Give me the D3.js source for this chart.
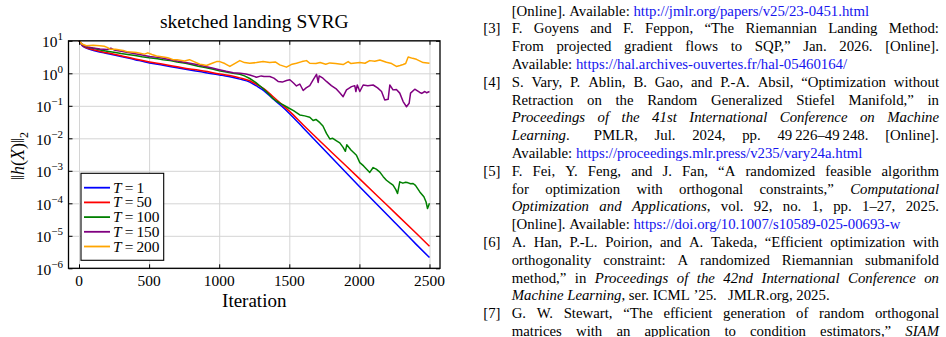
<!DOCTYPE html>
<html><head><meta charset="utf-8">
<script src="https://cdn.jsdelivr.net/npm/d3@7"></script>
<style>
html,body{margin:0;padding:0;background:#fff;}
svg{display:block;}
</style></head><body>
<svg id="c" width="946" height="337"></svg>
<script>
// ---------- chart data (iteration, log10 of ||h(X)||_2) ----------
const chartTitle = "sketched landing SVRG";
const xLabel = "Iteration";
const xTicks = [0, 500, 1000, 1500, 2000, 2500];
const yTickExps = [1, 0, -1, -2, -3, -4, -5, -6];
const seriesNames = ["T = 1", "T = 50", "T = 100", "T = 150", "T = 200"];
const seriesColors = ["#0000ff", "#ff0000", "#008000", "#800080", "#ffa500"];

const iterT1 = [0, 10, 27, 60, 125, 200, 300, 400, 503, 600, 700, 791, 847, 1004, 1100, 1147, 1218, 1266, 1320, 1385, 1440, 1504, 1600, 1800, 2000, 2200, 2400, 2500];
const logT1 = [1.0, 0.93, 0.83, 0.76, 0.68, 0.61, 0.52, 0.42, 0.32, 0.25, 0.17, 0.10, 0.06, -0.05, -0.13, -0.18, -0.27, -0.39, -0.54, -0.79, -0.99, -1.25, -1.68, -2.58, -3.48, -4.36, -5.24, -5.67];

const iterT50 = [0, 10, 27, 60, 125, 200, 300, 400, 503, 600, 700, 791, 847, 1004, 1100, 1147, 1218, 1266, 1320, 1385, 1440, 1504, 1600, 1800, 2000, 2200, 2400, 2500];
const logT50 = [1.0, 0.94, 0.85, 0.78, 0.70, 0.63, 0.54, 0.44, 0.35, 0.28, 0.20, 0.13, 0.10, -0.02, -0.09, -0.14, -0.23, -0.34, -0.48, -0.72, -0.93, -1.18, -1.59, -2.42, -3.24, -4.07, -4.90, -5.32];

const iterT100 = [0, 10, 30, 60, 110, 160, 200, 260, 300, 348, 400, 450, 500, 560, 600, 650, 700, 760, 800, 850, 900, 950, 1000, 1050, 1100, 1147, 1180, 1218, 1260, 1311, 1350, 1385, 1410, 1432, 1460, 1492, 1530, 1575, 1610, 1646, 1670, 1690, 1718, 1740, 1765, 1789, 1810, 1837, 1860, 1884, 1900, 1910, 1940, 1979, 2003, 2030, 2074, 2098, 2120, 2146, 2170, 2193, 2220, 2240, 2260, 2272, 2288, 2310, 2330, 2348, 2365, 2383, 2400, 2431, 2460, 2475, 2486, 2500];
const logT100 = [1.0, 0.94, 0.86, 0.80, 0.76, 0.71, 0.68, 0.64, 0.61, 0.58, 0.55, 0.51, 0.48, 0.45, 0.42, 0.39, 0.35, 0.31, 0.27, 0.22, 0.18, 0.13, 0.08, 0.04, 0.0, -0.03, -0.08, -0.16, -0.28, -0.46, -0.62, -0.78, -0.86, -0.92, -0.98, -1.06, -1.15, -1.28, -1.31, -1.35, -1.45, -1.42, -1.52, -1.62, -1.85, -2.02, -2.0, -2.08, -2.14, -2.28, -2.4, -2.2, -2.36, -2.52, -2.75, -2.85, -3.05, -2.9, -2.95, -3.04, -3.18, -3.29, -3.38, -3.44, -3.58, -3.70, -3.34, -3.38, -3.35, -3.37, -3.4, -3.39, -3.45, -3.65, -3.8, -3.95, -4.16, -4.0];

const iterT150 = [0, 10, 30, 60, 100, 150, 200, 227, 250, 300, 350, 400, 450, 503, 560, 600, 650, 700, 750, 800, 850, 900, 950, 1000, 1050, 1100, 1150, 1190, 1218, 1266, 1300, 1320, 1361, 1390, 1420, 1450, 1480, 1504, 1530, 1551, 1575, 1599, 1620, 1646, 1670, 1694, 1706, 1713, 1740, 1765, 1800, 1837, 1860, 1884, 1908, 1944, 1967, 1975, 1985, 2003, 2027, 2060, 2098, 2130, 2158, 2181, 2205, 2217, 2240, 2264, 2288, 2312, 2336, 2355, 2365, 2395, 2431, 2445, 2467, 2480, 2500];
const logT150 = [1.0, 0.94, 0.86, 0.81, 0.78, 0.75, 0.73, 0.77, 0.72, 0.68, 0.64, 0.6, 0.56, 0.52, 0.49, 0.46, 0.42, 0.38, 0.34, 0.3, 0.26, 0.21, 0.16, 0.11, 0.06, 0.02, 0.0, -0.02, -0.05, -0.12, -0.08, -0.1, -0.1, -0.15, -0.25, -0.27, -0.22, -0.2, -0.3, -0.39, -0.33, -0.53, -0.45, -0.38, -0.2, -0.03, -0.28, -0.08, -0.15, -0.25, -0.38, -0.49, -0.6, -0.72, -0.51, -0.41, -0.38, -0.56, -0.36, -0.56, -0.36, -0.38, -0.36, -0.45, -0.56, -0.82, -0.8, -0.36, -0.51, -0.5, -0.61, -0.87, -1.03, -0.92, -0.61, -0.49, -0.59, -0.62, -0.56, -0.6, -0.56];

const iterT200 = [0, 20, 53, 100, 148, 180, 205, 220, 260, 315, 348, 410, 467, 491, 520, 553, 600, 633, 671, 700, 752, 788, 820, 862, 885, 909, 950, 981, 1004, 1040, 1076, 1110, 1147, 1180, 1218, 1266, 1313, 1360, 1400, 1432, 1480, 1520, 1551, 1590, 1623, 1646, 1690, 1720, 1760, 1789, 1830, 1884, 1920, 1940, 2003, 2040, 2074, 2110, 2146, 2193, 2230, 2264, 2290, 2312, 2330, 2348, 2380, 2407, 2455, 2500];
const logT200 = [1.0, 0.9, 0.85, 0.86, 0.85, 0.83, 0.79, 0.74, 0.74, 0.70, 0.66, 0.64, 0.59, 0.63, 0.58, 0.53, 0.5, 0.48, 0.42, 0.42, 0.38, 0.42, 0.36, 0.28, 0.26, 0.24, 0.31, 0.36, 0.36, 0.3, 0.21, 0.3, 0.39, 0.33, 0.31, 0.33, 0.36, 0.33, 0.35, 0.26, 0.19, 0.28, 0.31, 0.36, 0.39, 0.31, 0.3, 0.33, 0.28, 0.32, 0.3, 0.27, 0.36, 0.3, 0.33, 0.31, 0.39, 0.37, 0.41, 0.34, 0.3, 0.21, 0.24, 0.27, 0.3, 0.5, 0.46, 0.43, 0.33, 0.31];

// ---------- reference list text (right column) ----------
const refLines = [
  {lab: "", j: false, segs: [["[Online]. Available: ", "n"], ["http://jmlr.org/papers/v25/23-0451.html", "u"]]},
  {lab: "[3]", j: true, segs: [["F. Goyens and F. Feppon, “The Riemannian Landing Method:", "n"]]},
  {lab: "", j: true, segs: [["From projected gradient flows to SQP,” Jan. 2026. [Online].", "n"]]},
  {lab: "", j: false, segs: [["Available: ", "n"], ["https://hal.archives-ouvertes.fr/hal-05460164/", "u"]]},
  {lab: "[4]", j: true, segs: [["S. Vary, P. Ablin, B. Gao, and P.-A. Absil, “Optimization without", "n"]]},
  {lab: "", j: true, segs: [["Retraction on the Random Generalized Stiefel Manifold,” in", "n"]]},
  {lab: "", j: true, segs: [["Proceedings of the 41st International Conference on Machine", "i"]]},
  {lab: "", j: true, segs: [["Learning", "i"], [".\u2002 PMLR, Jul. 2024, pp. 49\u2009226–49\u2009248. [Online].", "n"]]},
  {lab: "", j: false, segs: [["Available: ", "n"], ["https://proceedings.mlr.press/v235/vary24a.html", "u"]]},
  {lab: "[5]", j: true, segs: [["F. Fei, Y. Feng, and J. Fan, “A randomized feasible algorithm", "n"]]},
  {lab: "", j: true, segs: [["for optimization with orthogonal constraints,” ", "n"], ["Computational", "i"]]},
  {lab: "", j: true, segs: [["Optimization and Applications", "i"], [", vol. 92, no. 1, pp. 1–27, 2025.", "n"]]},
  {lab: "", j: false, segs: [["[Online]. Available: ", "n"], ["https://doi.org/10.1007/s10589-025-00693-w", "u"]]},
  {lab: "[6]", j: true, segs: [["A. Han, P.-L. Poirion, and A. Takeda, “Efficient optimization with", "n"]]},
  {lab: "", j: true, segs: [["orthogonality constraint: A randomized Riemannian submanifold", "n"]]},
  {lab: "", j: true, segs: [["method,” in ", "n"], ["Proceedings of the 42nd International Conference on", "i"]]},
  {lab: "", j: false, segs: [["Machine Learning", "i"], [", ser. ICML ’25.\u2002 JMLR.org, 2025.", "n"]]},
  {lab: "[7]", j: true, segs: [["G. W. Stewart, “The efficient generation of random orthogonal", "n"]]},
  {lab: "", j: true, segs: [["matrices with an application to condition estimators,” ", "n"], ["SIAM", "i"]]}
];

// ---------- drawing ----------
const FONT = "'Liberation Serif','Times New Roman',serif";
const LINK = "#1414ee";
const svg = d3.select("#c");
svg.append("rect").attr("width", 946).attr("height", 337).attr("fill", "#fff");

const M = {l: 68.5, r: 440, t: 40.8, b: 268.3};
const x = d3.scaleLinear().domain([-75, 2575]).range([M.l, M.r]);
const y = d3.scaleLog().domain([1e-6, 1e1]).range([M.b, M.t]);
const yTicks = yTickExps.map(e => Math.pow(10, e));

// grid
const grid = svg.append("g");
grid.append("g").attr("transform", `translate(0,${M.b})`)
  .call(d3.axisBottom(x).tickValues(xTicks).tickSize(-(M.b - M.t)).tickFormat(""))
  .call(s => { s.select(".domain").remove(); s.selectAll("line").attr("stroke", "#d4d4d4").attr("stroke-width", 1); });
grid.append("g").attr("transform", `translate(${M.l},0)`)
  .call(d3.axisLeft(y).tickValues(yTicks).tickSize(-(M.r - M.l)).tickFormat(""))
  .call(s => { s.select(".domain").remove(); s.selectAll("line").attr("stroke", "#d4d4d4").attr("stroke-width", 1); });

// lines
svg.append("defs").append("clipPath").attr("id", "pc").append("rect")
  .attr("x", M.l).attr("y", M.t).attr("width", M.r - M.l).attr("height", M.b - M.t);
const seriesIters = [iterT1, iterT50, iterT100, iterT150, iterT200];
const seriesLogs = [logT1, logT50, logT100, logT150, logT200];
const lineGen = d3.line().x(d => x(d[0])).y(d => y(Math.pow(10, d[1])));
const plot = svg.append("g").attr("clip-path", "url(#pc)");
seriesIters.forEach((its, i) => {
  const pts = its.map((v, k) => [v, seriesLogs[i][k]]);
  plot.append("path").datum(pts)
    .attr("d", lineGen.curve(i < 2 ? d3.curveMonotoneX : d3.curveLinear))
    .attr("fill", "none").attr("stroke", seriesColors[i]).attr("stroke-width", 1.5)
    .attr("stroke-linejoin", "round");
});

// axes ticks (inward, all four sides)
const styleAxis = s => { s.select(".domain").remove(); s.selectAll("line").attr("stroke", "#000").attr("stroke-width", 1); s.selectAll("text").remove(); };
svg.append("g").attr("transform", `translate(0,${M.b})`).call(d3.axisBottom(x).tickValues(xTicks).tickSizeInner(-4).tickSizeOuter(0)).call(styleAxis);
svg.append("g").attr("transform", `translate(0,${M.t})`).call(d3.axisTop(x).tickValues(xTicks).tickSizeInner(-4).tickSizeOuter(0)).call(styleAxis);
svg.append("g").attr("transform", `translate(${M.l},0)`).call(d3.axisLeft(y).tickValues(yTicks).tickSizeInner(-4).tickSizeOuter(0)).call(styleAxis);
svg.append("g").attr("transform", `translate(${M.r},0)`).call(d3.axisRight(y).tickValues(yTicks).tickSizeInner(-4).tickSizeOuter(0)).call(styleAxis);
svg.append("rect").attr("x", M.l).attr("y", M.t).attr("width", M.r - M.l).attr("height", M.b - M.t)
  .attr("fill", "none").attr("stroke", "#000").attr("stroke-width", 1.3);

// x tick labels
svg.append("g").selectAll("text").data(xTicks).join("text")
  .attr("x", d => x(d)).attr("y", 286).attr("text-anchor", "middle")
  .attr("font-family", FONT).attr("font-size", 15.4).text(d => d);
// y tick labels
yTickExps.forEach(e => {
  const t = svg.append("text").attr("x", 63).attr("y", y(Math.pow(10, e)) + 6.5)
    .attr("text-anchor", "end").attr("font-family", FONT).attr("font-size", 15.4);
  t.append("tspan").text("10");
  t.append("tspan").attr("dy", -7).attr("font-size", 11).text(String(e).replace("-", "\u2212"));
});

// title & axis labels
svg.append("text").attr("x", (M.l + M.r) / 2).attr("y", 28).attr("text-anchor", "middle")
  .attr("font-family", FONT).attr("font-size", 19.5).text(chartTitle);
svg.append("text").attr("x", (M.l + M.r) / 2).attr("y", 306.5).attr("text-anchor", "middle")
  .attr("font-family", FONT).attr("font-size", 19).text(xLabel);
const yl = svg.append("text").attr("transform", "translate(24,156) rotate(-90)").attr("text-anchor", "middle")
  .attr("font-family", FONT).attr("font-size", 18);
yl.append("tspan").text("\u2016");
yl.append("tspan").attr("font-style", "italic").text("h");
yl.append("tspan").text("(");
yl.append("tspan").attr("font-style", "italic").text("X");
yl.append("tspan").text(")\u2016");
yl.append("tspan").attr("dy", 4).attr("font-size", 12).text("2");

// legend
const lg = svg.append("g");
lg.append("rect").attr("x", 81).attr("y", 173.3).attr("width", 82.7).attr("height", 87)
  .attr("fill", "#fff").attr("stroke", "#000").attr("stroke-width", 1.1);
seriesNames.forEach((nm, i) => {
  const cy = 187.7 + i * 14.7;
  lg.append("line").attr("x1", 84).attr("x2", 110).attr("y1", cy).attr("y2", cy)
    .attr("stroke", seriesColors[i]).attr("stroke-width", 1.8);
  const t = lg.append("text").attr("x", 113).attr("y", cy + 5).attr("font-family", FONT).attr("font-size", 15.4);
  const parts = nm.split(" ");
  t.append("tspan").attr("font-style", "italic").text(parts[0]);
  t.append("tspan").text("\u2009" + parts[1] + "\u2009" + parts[2]);
});

// references column
const RX0 = 511.7, RX1 = 939, RB0 = 15.5, RS = 17.8, RFS = 14.8;
const refG = svg.append("g").attr("font-family", FONT).attr("font-size", RFS);
refLines.forEach((ln, i) => {
  const by = RB0 + i * RS;
  if (ln.lab) refG.append("text").attr("x", 483.3).attr("y", by).text(ln.lab);
  const words = []; let cur = [];
  ln.segs.forEach(([t, st]) => {
    t.split(" ").forEach((p, k) => {
      if (k > 0) { words.push(cur); cur = []; }
      if (p.length) cur.push([p, st]);
    });
  });
  words.push(cur);
  const ws = words.filter(w => w.length);
  const els = ws.map(w => {
    const t = refG.append("text").attr("y", by);
    w.forEach(([p, st]) => {
      const ts = t.append("tspan").text(p);
      if (st === "i") ts.attr("font-style", "italic");
      if (st === "u") ts.attr("fill", LINK);
    });
    return t;
  });
  const widths = els.map(e => e.node().getComputedTextLength());
  const total = d3.sum(widths);
  const n = ws.length - 1;
  const sp = (ln.j && n > 0) ? (RX1 - RX0 - total) / n : RFS * 0.25;
  let cx = RX0;
  els.forEach((e, k) => { e.attr("x", cx); cx += widths[k] + sp; });
});
</script>
</body></html>
